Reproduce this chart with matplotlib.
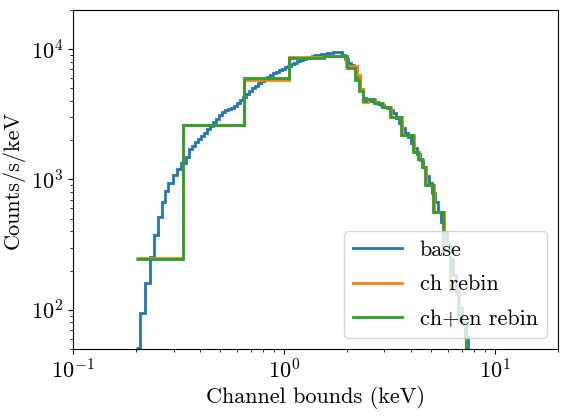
import matplotlib
matplotlib.use("Agg")
import matplotlib.pyplot as plt

plt.rcParams['font.family'] = 'serif'
plt.rcParams['font.serif'] = ['cmr10', 'DejaVu Serif']
plt.rcParams['mathtext.fontset'] = 'cm'
plt.rcParams['axes.formatter.use_mathtext'] = True
plt.rcParams['axes.unicode_minus'] = False
plt.rcParams['font.size'] = 16

# ---- data (keV edges, counts/s/keV) ----
base_edges = [0.199, 0.208, 0.219, 0.232, 0.242, 0.253, 0.264, 0.273, 0.282, 0.298,
              0.311, 0.325, 0.343,
              0.3546, 0.3664, 0.3786, 0.3912, 0.4042, 0.4177, 0.4316, 0.4459, 0.4608, 0.4761,
              0.4920, 0.5083, 0.5253, 0.5427, 0.5608, 0.5795, 0.5988, 0.6187, 0.6393, 0.6605,
              0.6825, 0.7052, 0.7287, 0.7530, 0.7780, 0.8039, 0.8307, 0.8583, 0.8869, 0.9164,
              0.9469, 0.9784, 1.0110, 1.0446, 1.0794, 1.1153, 1.1524, 1.1908, 1.2304, 1.2714,
              1.3137, 1.3574, 1.4026, 1.4493, 1.4975, 1.5474, 1.5989, 1.6521, 1.7071, 1.7639,
              1.8226, 1.8833, 1.9460, 2.0107, 2.0777, 2.1468, 2.2183, 2.2921, 2.3684, 2.4472,
              2.5287, 2.6128, 2.6998, 2.7897, 2.8825, 2.9785, 3.0776, 3.1800, 3.2859, 3.3952,
              3.5082, 3.6250, 3.7456, 3.8703, 3.9991, 4.1322, 4.2697, 4.4118, 4.5587, 4.7104,
              4.8672, 5.0292, 5.1965, 5.3695, 5.5482, 5.7328, 5.9236, 6.1208, 6.3245, 6.5350,
              6.7525, 6.9772, 7.2094, 7.4493, 7.6973, 7.95]
base_vals = [51, 95, 161, 256, 378, 519, 677, 809, 948, 1074,
             1194, 1327, 1476,
             1700, 1810, 1926, 2049, 2161, 2279, 2424, 2557, 2745, 2920,
             3107, 3277, 3395, 3486, 3548, 3677, 3843, 4053, 4273, 4546,
             4795, 5012, 5238, 5476, 5672, 5878, 6090, 6310, 6538, 6713,
             6894, 7079, 7269, 7466, 7667, 7874, 8085, 8303, 8452, 8603,
             8756, 8834, 8992, 9073, 9153, 9235, 9316, 9400, 9480, 9568,
             9480, 8992, 8377, 7874, 7532, 7141, 6090, 4924, 4198, 4053,
             4017, 3981, 3911, 3808, 3708, 3611, 3517, 3395, 3218, 2972,
             2697, 2468, 2279, 2104, 1909, 1732, 1557, 1401, 1237, 1073,
             932, 794, 677, 567, 475, 398, 322, 247, 186, 138,
             104, 79, 62, 49, 38]

ch_edges = [0.199, 0.332, 0.646, 1.056, 1.547, 1.967, 2.218, 2.292, 2.368, 2.500,
            2.700, 2.945, 3.215, 3.620, 4.130, 4.360, 4.550, 4.705, 5.135, 5.730,
            6.180, 6.745, 7.36, 8.1]
ch_vals = [251, 2600, 5800, 8720, 8880, 7470, 6310, 4920, 3945, 4180,
           3840, 3580, 3000, 2180, 1640, 1425, 1237, 915, 568, 290,
           143, 80, 46]

chen_edges = [0.199, 0.332, 0.646, 1.056, 1.547, 1.989, 2.170, 2.267, 2.368, 2.447,
              2.671, 2.914, 3.181, 3.585, 4.088, 4.317, 4.508, 4.659, 5.083, 5.670,
              6.118, 6.677, 7.29, 8.05]
chen_vals = [247, 2600, 5980, 8530, 8880, 7140, 5820, 4750, 4000, 4180,
             3840, 3580, 3000, 2180, 1640, 1425, 1237, 915, 568, 290,
             143, 80, 46]

fig = plt.figure(figsize=(5.69, 4.19), dpi=100)
ax = fig.add_axes([73/569, 1-349/419, 485/569, 339/419])

ax.stairs(base_vals, base_edges, baseline=None, color='#1f77b4', lw=2, label='base')
ax.stairs(ch_vals, ch_edges, baseline=None, color='#ff7f0e', lw=2, label='ch rebin')
ax.stairs(chen_vals, chen_edges, baseline=None, color='#2ca02c', lw=2, label='ch+en rebin')

ax.set_xscale('log')
ax.set_yscale('log')
ax.set_xlim(0.1, 20)
ax.set_ylim(50, 2e4)
ax.set_xlabel('Channel bounds (keV)', labelpad=2)
ax.set_ylabel('Counts/s/keV')
ax.legend(loc='lower right', fontsize=16, labelspacing=0.68, handlelength=2.2)

fig.savefig('out.png', dpi=100)
